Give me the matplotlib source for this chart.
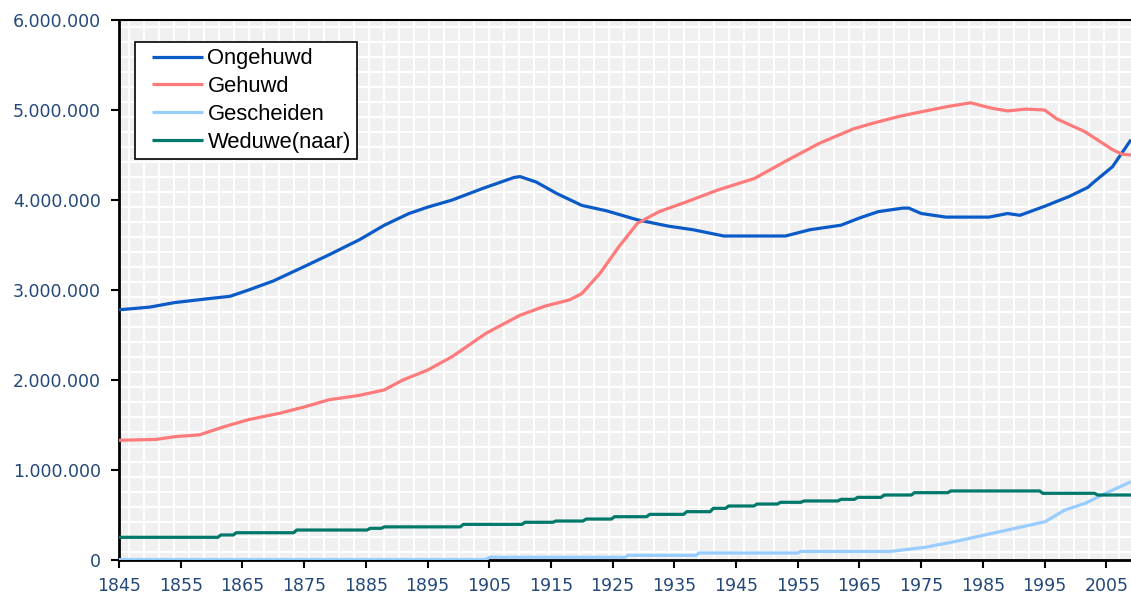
import numpy as np
import matplotlib
matplotlib.use("Agg")
import matplotlib.pyplot as plt
from matplotlib.ticker import MultipleLocator, FuncFormatter
from matplotlib.legend_handler import HandlerLine2D

# Data (values in millions)
ongehuwd_years = [1845, 1850, 1854, 1859, 1863, 1866, 1870, 1875, 1879, 1884, 1888, 1892,
                  1895, 1899, 1904, 1909, 1910, 1912.6, 1916, 1920, 1924, 1929, 1934, 1938,
                  1943, 1953, 1957, 1962, 1965, 1968, 1972, 1973, 1975, 1979, 1986, 1989,
                  1991, 1995, 1999, 2002, 2003, 2006, 2009]
ongehuwd = [2.78, 2.81, 2.86, 2.90, 2.93, 3.00, 3.10, 3.26, 3.39, 3.56, 3.72, 3.85,
            3.92, 4.00, 4.13, 4.25, 4.26, 4.20, 4.07, 3.94, 3.88, 3.78, 3.71, 3.67,
            3.60, 3.60, 3.67, 3.72, 3.80, 3.87, 3.91, 3.91, 3.85, 3.81, 3.81, 3.85,
            3.83, 3.93, 4.04, 4.14, 4.20, 4.37, 4.67]

gehuwd_years = [1845, 1851, 1854, 1858, 1862, 1866, 1871, 1875, 1879, 1884, 1888, 1891,
                1895, 1899, 1904.5, 1910, 1914, 1918, 1920, 1923, 1926, 1929, 1932.5, 1937,
                1942, 1948, 1953, 1958.5, 1964, 1967, 1971.5, 1975, 1979.4, 1983, 1986.4,
                1989, 1992, 1995, 1997, 2001.5, 2006, 2007.5, 2009]
gehuwd = [1.33, 1.34, 1.37, 1.39, 1.48, 1.56, 1.63, 1.70, 1.78, 1.83, 1.89, 2.00,
          2.11, 2.26, 2.52, 2.72, 2.82, 2.89, 2.96, 3.19, 3.48, 3.74, 3.87, 3.98,
          4.11, 4.24, 4.43, 4.63, 4.79, 4.85, 4.93, 4.98, 5.04, 5.08, 5.02,
          4.99, 5.01, 5.00, 4.90, 4.76, 4.56, 4.51, 4.50]

gescheiden_years = [1845, 1904.5, 1905, 1927, 1927.5, 1938.5, 1939, 1955, 1955.5, 1970,
                    1975.6, 1980.4, 1985.3, 1990.2, 1995.1, 1998.3, 2001.6, 2004.3, 2009]
gescheiden = [0.005, 0.005, 0.030, 0.030, 0.052, 0.052, 0.078, 0.078, 0.095, 0.095,
              0.141, 0.204, 0.278, 0.352, 0.426, 0.556, 0.630, 0.722, 0.870]

weduwe_years = [1845, 1861, 1861.5, 1863.5, 1864, 1873.3, 1873.8, 1885.2, 1885.7, 1887.5,
                1888, 1900.3, 1900.8, 1910.3, 1910.8, 1915.3, 1915.8, 1920.2, 1920.7,
                1924.8, 1925.3, 1930.5, 1931, 1936.5, 1937, 1940.8, 1941.3, 1943.3,
                1943.8, 1947.9, 1948.4, 1951.7, 1952.2, 1955.5, 1956, 1961.5, 1962,
                1964.2, 1964.7, 1968.5, 1969, 1973.4, 1973.9, 1979.3, 1979.8, 1994.2,
                1994.7, 2003.1, 2003.6, 2009]
weduwe = [0.252, 0.252, 0.278, 0.278, 0.303, 0.303, 0.333, 0.333, 0.352, 0.352,
          0.368, 0.368, 0.396, 0.396, 0.419, 0.419, 0.433, 0.433, 0.455,
          0.455, 0.481, 0.481, 0.507, 0.507, 0.537, 0.537, 0.574, 0.574,
          0.600, 0.600, 0.622, 0.622, 0.641, 0.641, 0.656, 0.656, 0.674,
          0.674, 0.696, 0.696, 0.722, 0.722, 0.748, 0.748, 0.767, 0.767,
          0.741, 0.741, 0.722, 0.722]

x_ticks = list(range(1845, 2006, 10))
y_ticks = [0, 1e6, 2e6, 3e6, 4e6, 5e6, 6e6]

series = [
    ("Ongehuwd", ongehuwd_years, ongehuwd, "#0a5ac8"),
    ("Gehuwd", gehuwd_years, gehuwd, "#ff7a7a"),
    ("Gescheiden", gescheiden_years, gescheiden, "#99ccff"),
    ("Weduwe(naar)", weduwe_years, weduwe, "#00786a"),
]


# legend line that leaves some empty space before it
class PaddedLine(HandlerLine2D):
    def create_artists(self, legend, orig_handle, xdescent, ydescent, width, height, fontsize, trans):
        arts = super().create_artists(legend, orig_handle, xdescent, ydescent, width, height, fontsize, trans)
        xd = np.asarray(arts[0].get_xdata(), dtype=float)
        arts[0].set_xdata(np.linspace(xd[0] + 0.17 * width, xd[-1], len(xd)))
        return arts


fig = plt.figure(figsize=(11.31, 5.98), dpi=100)
ax = fig.add_axes([119 / 1131, 1 - 560 / 598, 1 - 119 / 1131, 540 / 598])
ax.set_facecolor("#f0f0f0")

for name, yrs, vals, col in series:
    ax.plot(yrs, np.array(vals) * 1e6, color=col, lw=2.3, label=name,
            solid_capstyle="butt", zorder=3)

ax.set_xlim(1845, 2009)
ax.set_ylim(0, 6e6)

# background grid (fine squares)
ax.xaxis.set_minor_locator(MultipleLocator(2.43, offset=2.3))
ax.yaxis.set_minor_locator(MultipleLocator(1e6 / 6, offset=92000))
ax.grid(which="minor", color="white", lw=1.5, zorder=0)
ax.grid(which="major", visible=False)
ax.tick_params(which="minor", length=0)

ax.set_xticks(x_ticks)
ax.set_yticks(y_ticks)
ax.yaxis.set_major_formatter(FuncFormatter(lambda v, p: f"{int(v):,}".replace(",", ".")))
ax.tick_params(which="major", direction="out", length=6, width=1.5,
               labelsize=12.5, labelcolor="#24487a", color="black")
ax.tick_params(axis="x", pad=6)
ax.tick_params(axis="y", pad=7)

for s in ["left", "bottom"]:
    ax.spines[s].set_linewidth(2)
    ax.spines[s].set_color("black")
ax.spines["top"].set_linewidth(1.5)
ax.spines["right"].set_visible(False)

leg = ax.legend(loc="upper left", bbox_to_anchor=(0.0158, 0.96), borderaxespad=0,
                prop={"family": "Liberation Sans", "size": 15.8}, frameon=True,
                fancybox=False, edgecolor="black", framealpha=1, handlelength=2.8,
                handletextpad=0.2, labelspacing=0.31, borderpad=0.3,
                handler_map={plt.Line2D: PaddedLine()})
leg.get_frame().set_linewidth(1.2)

fig.savefig("out.png", dpi=100)
